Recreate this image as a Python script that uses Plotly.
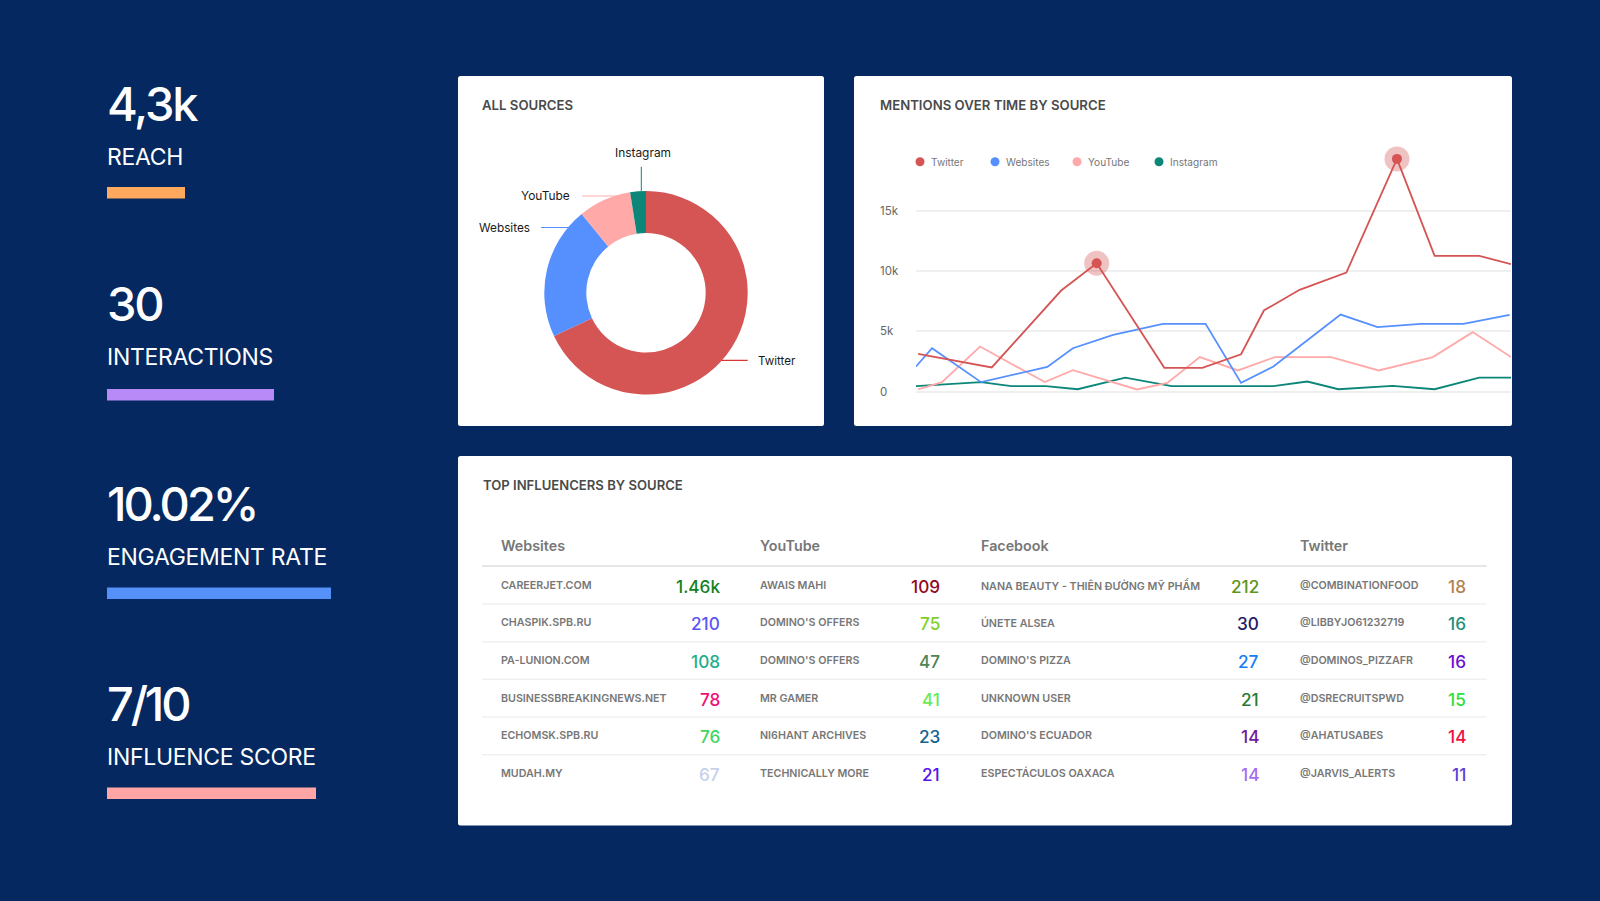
import plotly.graph_objects as go

W, H = 1600, 901
BG = "#04285F"
RED, BLUE, PINK, TEAL = "#D55454", "#5690FF", "#FFA9A9", "#0B8678"

# KPI column
kpi_values = ["4,3k", "30", "10.02%", "7/10"]
kpi_labels = ["REACH", "INTERACTIONS", "ENGAGEMENT RATE", "INFLUENCE SCORE"]
kpi_colors = ["#FFA95E", "#B78AF7", "#5591F9", "#FFA5A5"]
kpi_bar_widths = [78, 167, 224, 209]
kpi_bar_tops = [187, 389, 587.5, 787.5]
kpi_tracking = [-2.2, -2.2, -3.0, -3.2]

# Donut
sources = ["Twitter", "Websites", "YouTube", "Instagram"]
source_share = [68.0, 21.1, 8.4, 2.5]
source_colors = [RED, BLUE, PINK, TEAL]

# Mentions over time
tw_x = [0.11, 3.82, 7.32, 9.11, 12.52, 14.44, 16.39, 17.54, 19.34, 21.70, 24.25, 26.15, 28.40, 30]
tw_y = [3130, 2000, 8400, 10670, 1970, 1970, 3100, 6740, 8460, 9900, 19350, 11280, 11280, 10600]
web_x = [0, 0.81, 3.28, 6.62, 7.91, 9.94, 12.45, 14.60, 16.39, 18.02, 21.41, 23.27, 25.45, 27.6, 29.93]
web_y = [2080, 3600, 780, 2050, 3600, 4710, 5630, 5630, 720, 2080, 6400, 5350, 5630, 5630, 6380]
yt_x = [0.11, 1.31, 3.23, 6.49, 7.91, 11.14, 12.67, 14.31, 16.23, 18.09, 20.93, 23.33, 26.06, 28.07, 30]
yt_y = [170, 780, 3740, 780, 1770, 170, 720, 2860, 1750, 2860, 2860, 1750, 2860, 4940, 2860]
ig_x = [0, 3.28, 4.81, 6.55, 8.15, 10.55, 12.89, 18.02, 19.73, 21.3, 24.03, 26.15, 28.4, 30]
ig_y = [440, 780, 440, 440, 190, 1160, 440, 440, 830, 190, 470, 190, 1160, 1160]
peak_idx = [3, 10]
y_ticks = [0, 5000, 10000, 15000]
y_ticklabels = ["0", "5k", "10k", "15k"]

# Table
table_heads = ["Websites", "YouTube", "Facebook", "Twitter"]
table_names = [
    ["CAREERJET.COM", "CHASPIK.SPB.RU", "PA-LUNION.COM", "BUSINESSBREAKINGNEWS.NET", "ECHOMSK.SPB.RU", "MUDAH.MY"],
    ["AWAIS MAHI", "DOMINO'S OFFERS", "DOMINO'S OFFERS", "MR GAMER", "NI6HANT ARCHIVES", "TECHNICALLY MORE"],
    ["NANA BEAUTY - THIÊN ĐƯỜNG MỸ PHẨM", "ÚNETE ALSEA", "DOMINO'S PIZZA", "UNKNOWN USER", "DOMINO'S ECUADOR", "ESPECTÁCULOS OAXACA"],
    ["@COMBINATIONFOOD", "@LIBBYJO61232719", "@DOMINOS_PIZZAFR", "@DSRECRUITSPWD", "@AHATUSABES", "@JARVIS_ALERTS"],
]
table_values = [
    ["1.46k", "210", "108", "78", "76", "67"],
    ["109", "75", "47", "41", "23", "21"],
    ["212", "30", "27", "21", "14", "14"],
    ["18", "16", "16", "15", "14", "11"],
]
table_colors = [
    ["#14801E", "#5B55F5", "#1FAE8A", "#EE0F78", "#3FD55F", "#C5D0EC"],
    ["#8E0A1E", "#7FD026", "#4E8555", "#6AEA55", "#14638F", "#5A10EE"],
    ["#5F9420", "#241A66", "#1580F5", "#2A7A35", "#6F1AA0", "#A56EF0"],
    ["#B28150", "#1E8F7A", "#6A10D0", "#2EDF35", "#F01040", "#5A40D8"],
]

FONT = "Inter"
def px(x): return x / W
def py(y): return 1 - y / H

shapes, annos = [], []
def rect(x0, y0, x1, y1, color):
    shapes.append(dict(type="rect", xref="paper", yref="paper", x0=px(x0), x1=px(x1), y0=py(y0), y1=py(y1),
                       fillcolor=color, line=dict(width=0), layer="below"))
def card(x0, y0, x1, y1, r=2.5):
    pts = [("M", x0 + r, y0), ("L", x1 - r, y0), ("Q", x1, y0, x1, y0 + r), ("L", x1, y1 - r), ("Q", x1, y1, x1 - r, y1),
           ("L", x0 + r, y1), ("Q", x0, y1, x0, y1 - r), ("L", x0, y0 + r), ("Q", x0, y0, x0 + r, y0)]
    d = ""
    for p in pts:
        if p[0] == "Q":
            d += f"Q{px(p[1])},{py(p[2])} {px(p[3])},{py(p[4])} "
        else:
            d += f"{p[0]}{px(p[1])},{py(p[2])} "
    shapes.append(dict(type="path", xref="paper", yref="paper", path=d + "Z", fillcolor="#FFFFFF",
                       line=dict(width=0), layer="below"))
def hline(x0, x1, y, color, w=1):
    shapes.append(dict(type="line", xref="paper", yref="paper", x0=px(x0), x1=px(x1), y0=py(y), y1=py(y),
                       line=dict(color=color, width=w), layer="below"))
def text(x, y, s, size, color, anchor="left", weight=400, ls=None):
    t = s if ls is None else f'<span style="letter-spacing:{ls}px">{s}</span>'
    annos.append(dict(xref="paper", yref="paper", x=px(x), y=py(y), text=t, showarrow=False, xanchor=anchor,
                      yanchor="middle", borderpad=0, align=anchor,
                      font=dict(family=FONT, size=size, color=color, weight=weight)))

# Cards
card(458, 76, 824, 426)
card(854, 76, 1512, 426)
card(458, 456, 1512, 825.5)

text(481, 105, "ALL SOURCES", 13.2, "#4A4A4A", weight=600)
text(878.5, 105, "MENTIONS OVER TIME BY SOURCE", 13.2, "#4A4A4A", weight=600)
text(481.5, 485, "TOP INFLUENCERS BY SOURCE", 13.1, "#4A4A4A", weight=600)

# KPI column
for i in range(4):
    top = i * 200
    text(106, 103.5 + top, kpi_values[i], 47, "#FFFFFF", weight=500, ls=kpi_tracking[i])
    text(106, 156.5 + top, kpi_labels[i], 23, "#FFFFFF", weight=400, ls=-0.3)
    rect(107, kpi_bar_tops[i], 107 + kpi_bar_widths[i], kpi_bar_tops[i] + 11.5, kpi_colors[i])

# Donut labels and leaders
text(643, 152.7, "Instagram", 11.9, "#1A1A1A", anchor="center")
text(570.5, 195, "YouTube", 11.9, "#1A1A1A", anchor="right")
text(530.5, 227.7, "Websites", 11.8, "#1A1A1A", anchor="right")
text(756.5, 361, "Twitter", 11.6, "#1A1A1A")
shapes.append(dict(type="line", xref="paper", yref="paper", x0=px(641.3), x1=px(641.3), y0=py(166.7), y1=py(191),
                   line=dict(color=TEAL, width=1), layer="below"))
hline(582.3, 632, 196, PINK)
hline(541, 570, 227.5, BLUE)
hline(720, 747.7, 360.3, "#D40000")

# Line-chart legend
leg_dot = [920, 995, 1077, 1159]
for s, c, x in zip(sources, source_colors, leg_dot):
    shapes.append(dict(type="circle", xref="paper", yref="paper", x0=px(x - 4.5), x1=px(x + 4.5),
                       y0=py(161.7 - 4.5), y1=py(161.7 + 4.5), fillcolor=c, line=dict(width=0), layer="below"))
    text(x + 10, 162, s, 10.1, "#777777")

# Line-chart tick labels
for v, s in zip(y_ticks, y_ticklabels):
    annos.append(dict(xref="paper", yref="y", x=px(877.5), y=v, text=s, showarrow=False, xanchor="left", yanchor="middle",
                      font=dict(family=FONT, size=11.5, color="#666666")))

# Table
head_x = [499.5, 759, 979.5, 1299]
val_x = [720.5, 941, 1259.5, 1467]
row_y = [585 + 37.67 * i for i in range(6)]
for c in range(4):
    text(head_x[c], 545, table_heads[c], 14.3, "#777777", weight=600)
    for r in range(6):
        text(head_x[c], row_y[r], table_names[c][r], 10.7, "#777777", weight=600)
        text(val_x[c], row_y[r] + 1, table_values[c][r], 17.2, table_colors[c][r], anchor="right", weight=500)
hline(482, 1486.5, 566, "#E6E6E6", 2)
for r in range(5):
    hline(482, 1486.5, 604 + 37.67 * r, "#F0F0F0", 1.5)

fig = go.Figure()
# Donut
cx, cy, R = 646, 292.8, 101.7
fig.add_trace(go.Pie(labels=sources, values=source_share, hole=0.587, sort=False, direction="clockwise", rotation=0,
                     marker=dict(colors=source_colors, line=dict(width=0)), textinfo="none", showlegend=False,
                     domain=dict(x=[px(cx - R), px(cx + R)], y=[py(cy + R), py(cy - R)])))
# Lines, back to front
for name, xs, ys, c in [("Instagram", ig_x, ig_y, TEAL), ("YouTube", yt_x, yt_y, PINK),
                        ("Websites", web_x, web_y, BLUE), ("Twitter", tw_x, tw_y, RED)]:
    fig.add_trace(go.Scatter(x=xs, y=ys, mode="lines", name=name, line=dict(color=c, width=1.8), showlegend=False))
peak_x = [tw_x[i] for i in peak_idx]
peak_y = [tw_y[i] for i in peak_idx]
fig.add_trace(go.Scatter(x=peak_x, y=peak_y, mode="markers", showlegend=False,
                         marker=dict(size=25, color=RED, opacity=0.35, line=dict(width=0))))
fig.add_trace(go.Scatter(x=peak_x, y=peak_y, mode="markers", showlegend=False,
                         marker=dict(size=10, color=RED, line=dict(width=0))))

y_per_px = 1000 / 12.02
zero_px = 391.5
fig.update_layout(
    width=W, height=H, autosize=False, margin=dict(l=0, r=0, t=0, b=0),
    paper_bgcolor=BG, plot_bgcolor="rgba(0,0,0,0)", shapes=shapes, annotations=annos, showlegend=False,
    font=dict(family=FONT),
    xaxis=dict(domain=[px(916), px(1511)], range=[0, 30], visible=False, fixedrange=True),
    yaxis=dict(domain=[py(410), py(130)], range=[(zero_px - 410) * y_per_px, (zero_px - 130) * y_per_px],
               tickvals=y_ticks, showticklabels=False, ticks="", showline=False, zeroline=False,
               showgrid=True, gridcolor="#EFEFEF", gridwidth=1.5, fixedrange=True),
)
fig.write_html("out.html", config=dict(displayModeBar=False),
               post_script="document.body.style.margin='0';document.body.style.overflow='hidden';document.body.style.background='%s';" % BG)
